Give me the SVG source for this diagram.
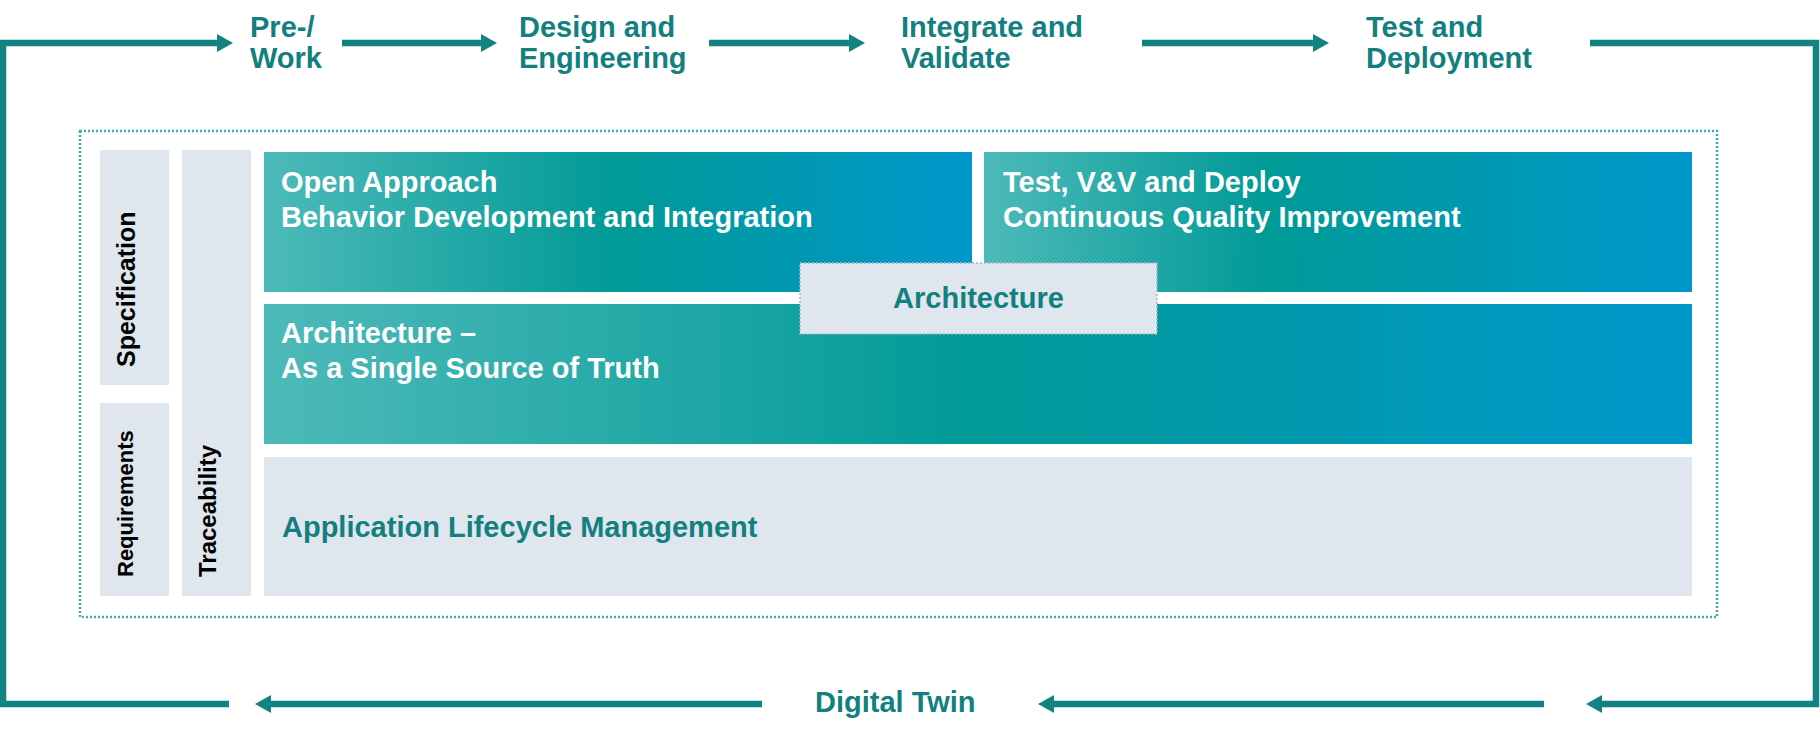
<svg xmlns="http://www.w3.org/2000/svg" width="1820" height="738" viewBox="0 0 1820 738">
<style>
  .t{font-family:"Liberation Sans",Arial,sans-serif;font-weight:bold;font-size:29px}
  .teal{fill:#12807F}
  .white{fill:#FFFFFF}
  .side{font-family:"Liberation Sans",Arial,sans-serif;font-weight:bold;font-size:25px;fill:#000}
  .gray{fill:#DFE6EE}
  .conn{fill:none;stroke:#128282;stroke-width:6.5}
</style>
<defs>
  <marker id="ah" markerUnits="userSpaceOnUse" markerWidth="18" markerHeight="18" refX="8" refY="9" orient="auto">
    <path d="M0,0 L16,9 L0,18 Z" fill="#128282"/>
  </marker>
  <linearGradient id="g1" x1="0" y1="0" x2="1" y2="0">
    <stop offset="0" stop-color="#4DBAB9"/>
    <stop offset="0.5" stop-color="#009A97"/>
    <stop offset="1" stop-color="#0098CC"/>
  </linearGradient>
  <linearGradient id="g2" x1="0" y1="0" x2="1" y2="0">
    <stop offset="0" stop-color="#4DBAB9"/>
    <stop offset="0.4" stop-color="#009A97"/>
    <stop offset="1" stop-color="#0098CC"/>
  </linearGradient>
</defs>
<rect width="1820" height="738" fill="#FFFFFF"/>

<g id="frame">
  <rect x="80" y="131" width="1637" height="486" fill="none" stroke="#3DAEA9" stroke-width="2.5" stroke-dasharray="2 2"/>
</g>

<g id="connectors">
  <polyline class="conn" points="229,704 3,704 3,43 225,43" marker-end="url(#ah)"/>
  <polyline class="conn" points="342,43 489,43" marker-end="url(#ah)"/>
  <polyline class="conn" points="709,43 857,43" marker-end="url(#ah)"/>
  <polyline class="conn" points="1142,43 1321,43" marker-end="url(#ah)"/>
  <polyline class="conn" points="1590,43 1816,43 1816,704 1594,704" marker-end="url(#ah)"/>
  <polyline class="conn" points="1544,704 1046,704" marker-end="url(#ah)"/>
  <polyline class="conn" points="762,704 263,704" marker-end="url(#ah)"/>
</g>

<g id="stage-prework">
  <text class="t teal" x="250" y="37">Pre-/</text>
  <text class="t teal" x="250" y="68">Work</text>
</g>
<g id="stage-design">
  <text class="t teal" x="519" y="37">Design and</text>
  <text class="t teal" x="519" y="68">Engineering</text>
</g>
<g id="stage-integrate">
  <text class="t teal" x="901" y="37">Integrate and</text>
  <text class="t teal" x="901" y="68">Validate</text>
</g>
<g id="stage-test">
  <text class="t teal" x="1366" y="37">Test and</text>
  <text class="t teal" x="1366" y="68">Deployment</text>
</g>
<g id="digital-twin">
  <text class="t teal" x="815" y="712">Digital Twin</text>
</g>

<g id="specification">
  <rect class="gray" x="100" y="150" width="69" height="235"/>
  <text class="side" transform="translate(135,367) rotate(-90)">Specification</text>
</g>
<g id="requirements">
  <rect class="gray" x="100" y="403" width="69" height="193"/>
  <text class="side" style="font-size:22px" transform="translate(133,577) rotate(-90)">Requirements</text>
</g>
<g id="traceability">
  <rect class="gray" x="182" y="150" width="69" height="446"/>
  <text class="side" style="font-size:24px" transform="translate(216,577) rotate(-90)">Traceability</text>
</g>

<g id="open-approach">
  <rect x="264" y="152" width="708" height="140" fill="url(#g1)"/>
  <text class="t white" x="281" y="192">Open Approach</text>
  <text class="t white" x="281" y="227">Behavior Development and Integration</text>
</g>
<g id="test-vv">
  <rect x="984" y="152" width="708" height="140" fill="url(#g2)"/>
  <text class="t white" x="1003" y="192">Test, V&amp;V and Deploy</text>
  <text class="t white" x="1003" y="227">Continuous Quality Improvement</text>
</g>
<g id="architecture-sst">
  <rect x="264" y="304" width="1428" height="140" fill="url(#g1)"/>
  <text class="t white" x="281" y="343">Architecture –</text>
  <text class="t white" x="281" y="378">As a Single Source of Truth</text>
</g>
<g id="alm">
  <rect class="gray" x="264" y="457" width="1428" height="139"/>
  <text class="t teal" x="282" y="537">Application Lifecycle Management</text>
</g>
<g id="architecture">
  <rect x="800" y="263" width="357" height="71" fill="#DFE6EE" stroke="#A7B6C2" stroke-width="1.5" stroke-dasharray="2 2"/>
  <text class="t teal" x="978.5" y="308" text-anchor="middle">Architecture</text>
</g>
</svg>
